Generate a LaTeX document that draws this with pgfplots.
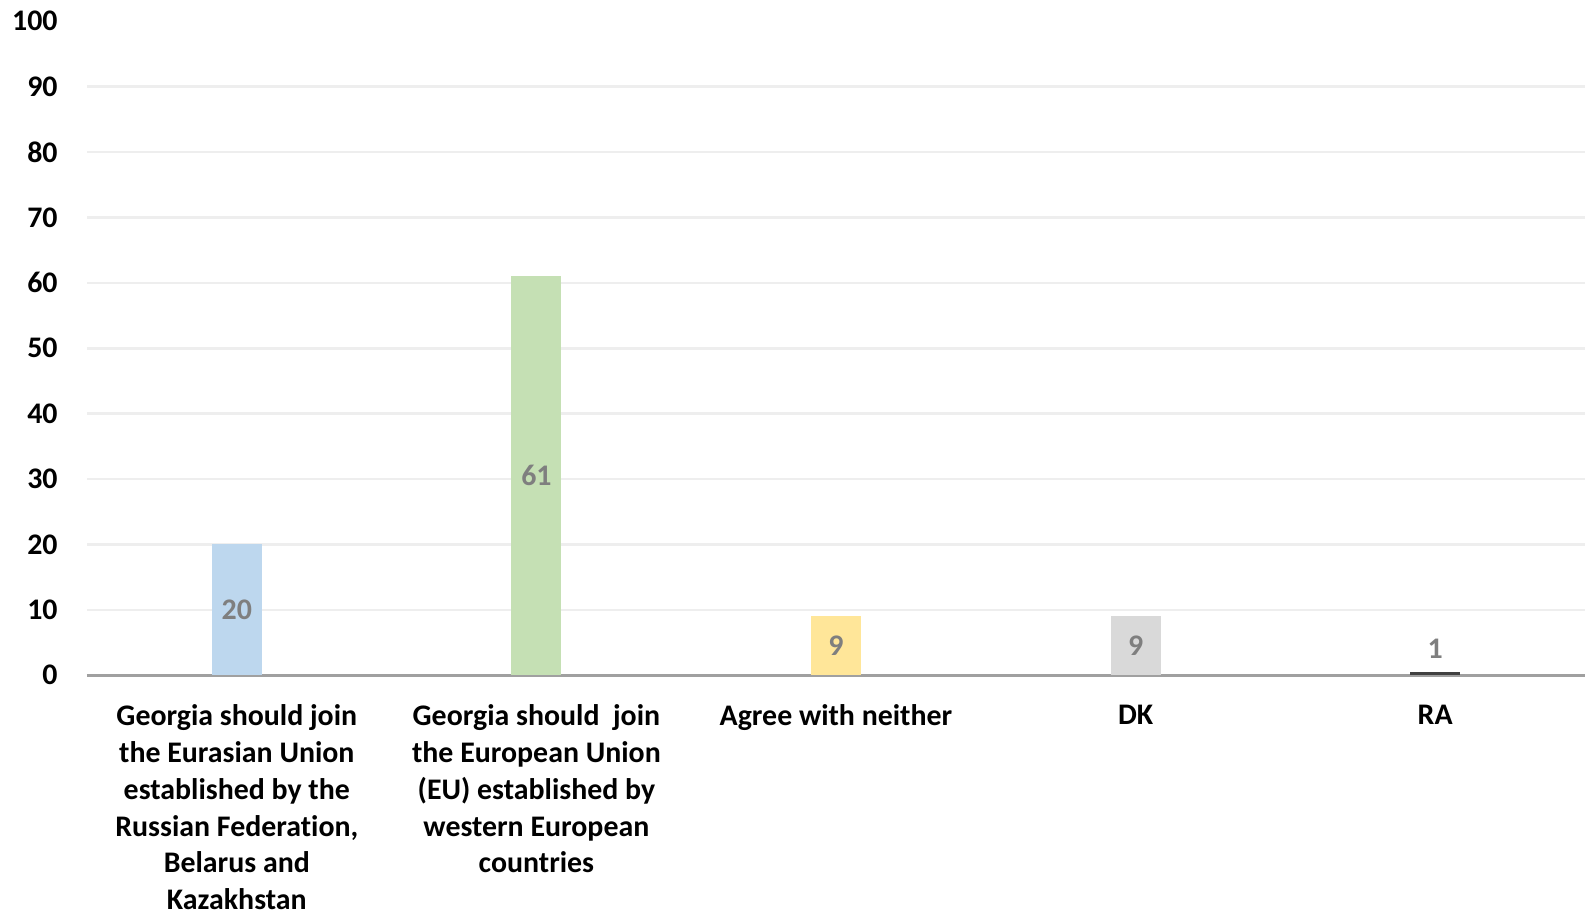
\documentclass[border=0pt]{standalone}
\usepackage{pgfplots}
\pgfplotsset{compat=1.18}
\usepackage{fontspec}
\setmainfont{Carlito}[RawFeature={-liga}]
\definecolor{cblue}{HTML}{BDD7EE}
\definecolor{cgreen}{HTML}{C5E0B4}
\definecolor{cyellow}{HTML}{FFE699}
\definecolor{cgray}{HTML}{D9D9D9}
\definecolor{cdark}{HTML}{404040}
\definecolor{labgray}{HTML}{7F7F7F}
\definecolor{gridc}{HTML}{EEEEEE}
\definecolor{axisc}{HTML}{A0A0A0}
\begin{document}
\begin{tikzpicture}
\path[use as bounding box] (-0.87cm,-2.39cm) rectangle (15.00cm,6.753cm);
\begin{axis}[
  at={(0,0)}, anchor=south west,
  scale only axis, width=14.98cm, height=6.54cm,
  xmin=-0.5, xmax=4.5, ymin=0, ymax=100,
  axis x line*=bottom, axis y line*=left,
  x axis line style={draw=axisc, line width=0.75pt},
  y axis line style={draw=none},
  xtick={0,1,2,3,4},
  xticklabels={{Georgia should join\\the Eurasian Union\\established by the\\Russian Federation,\\Belarus and\\Kazakhstan},
               {Georgia should\ \ join\\the European Union\\(EU) established by\\western European\\countries},
               {Agree with neither},{DK},{RA}},
  ytick={0,10,...,90},
  extra y ticks={100},
  extra y tick style={grid=none},
  ymajorgrids, grid style={draw=gridc, line width=0.7pt},
  major tick length=0pt,
  tick style={draw=none},
  ticklabel style={font=\fontsize{8.5}{10.47}\selectfont\bfseries},
  yticklabel style={/pgf/number format/assume math mode=true, xshift=-0.17cm},
  xticklabel style={align=center, anchor=north, yshift=-0.17cm},
  bar width=0.5cm,
  clip=false,
]
\addplot[ybar, bar shift=0pt, fill=cblue, draw=none] coordinates {(0,20)};
\addplot[ybar, bar shift=0pt, fill=cgreen, draw=none] coordinates {(1,61)};
\addplot[ybar, bar shift=0pt, fill=cyellow, draw=none] coordinates {(2,9)};
\addplot[ybar, bar shift=0pt, fill=cgray, draw=none] coordinates {(3,9)};
\addplot[ybar, bar shift=0pt, fill=cdark, draw=none] coordinates {(4,0.5)};
\addplot[draw=none, nodes near coords, point meta=explicit symbolic,
  every node near coord/.append style={anchor=center, text=labgray, font=\fontsize{8.5}{10}\selectfont\bfseries}]
  coordinates {(0,10)[20] (1,30.5)[61] (2,4.5)[9] (3,4.5)[9] (4,4)[1]};
\end{axis}
\end{tikzpicture}
\end{document}
